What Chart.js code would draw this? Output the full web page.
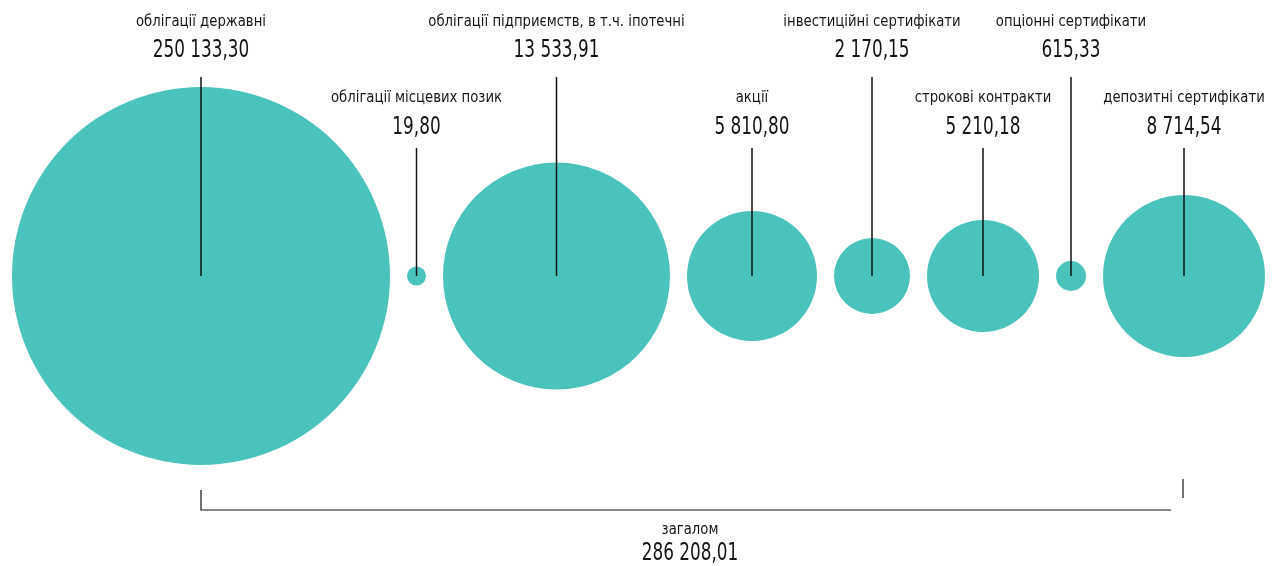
<!DOCTYPE html>
<html>
<head>
<meta charset="utf-8">
<script src="https://cdn.jsdelivr.net/npm/chart.js@4/dist/chart.umd.min.js"></script>
<style>
html,body{margin:0;padding:0;background:#fff;}
#wrap{width:1287px;height:566px;}
</style>
</head>
<body>
<div id="wrap"><canvas id="c" width="1287" height="566"></canvas></div>
<script>
const categories = [
  'облігації державні',
  'облігації місцевих позик',
  'облігації підприємств, в т.ч. іпотечні',
  'акції',
  'інвестиційні сертифікати',
  'строкові контракти',
  'опціонні сертифікати',
  'депозитні сертифікати'
];
const values = [250133.30, 19.80, 13533.91, 5810.80, 2170.15, 5210.18, 615.33, 8714.54];
const bubbleRadius = [189, 9.5, 113.5, 65, 38, 56, 15, 81];
const totalLabel = 'загалом';

const W = 1287, H = 566;
const LEFT = 12, GAP = 17, CY = 276;
const COLOR = '#4bc3bd';
const FONT = '"DejaVu Sans Condensed", "Liberation Sans Narrow", "Roboto", sans-serif';

function fmt(v){
  const s = v.toFixed(2);
  let [ip, dp] = s.split('.');
  ip = ip.replace(/\B(?=(\d{3})+(?!\d))/g, ' ');
  return ip + ',' + dp;
}

// draw horizontally condensed text centred at x (clamped to canvas)
function drawText(ctx, text, x, y, size, sx){
  ctx.font = size + 'px ' + FONT;
  const w = ctx.measureText(text).width * sx;
  let cx = x;
  if (cx + w / 2 > W - 2) cx = W - 2 - w / 2;
  ctx.save();
  ctx.translate(cx, y);
  ctx.scale(sx, 1);
  ctx.textAlign = 'center';
  ctx.textBaseline = 'middle';
  ctx.fillText(text, 0, 0);
  ctx.restore();
}

// pack bubbles left to right
const xs = [];
let cur = LEFT;
bubbleRadius.forEach((r, i) => {
  if (i > 0) cur += GAP;
  xs.push(cur + r);
  cur += 2 * r;
});
const points = values.map((v, i) => ({x: xs[i], y: CY, r: bubbleRadius[i]}));
const total = values.reduce((a, b) => a + b, 0);

const labelPlugin = {
  id: 'labels',
  afterDatasetsDraw(chart){
    const ctx = chart.ctx;
    const meta = chart.getDatasetMeta(0);
    ctx.save();
    ctx.fillStyle = '#151515';
    meta.data.forEach((el, i) => {
      const level = i % 2;
      const nameY = level === 0 ? 22 : 98;
      const valY = level === 0 ? 50 : 127;
      const lineTop = level === 0 ? 77 : 148;
      ctx.strokeStyle = '#111';
      ctx.lineWidth = 1.5;
      ctx.beginPath();
      ctx.moveTo(el.x, lineTop);
      ctx.lineTo(el.x, el.y);
      ctx.stroke();
      drawText(ctx, categories[i], el.x, nameY, 16, 0.92);
      drawText(ctx, fmt(values[i]), el.x, valY, 25, 0.75);
    });
    // total bracket
    const x0 = meta.data[0].x;
    const xn = meta.data[meta.data.length - 1].x;
    ctx.strokeStyle = '#111';
    ctx.lineWidth = 1.2;
    ctx.beginPath();
    ctx.moveTo(x0, 490); ctx.lineTo(x0, 510); ctx.lineTo(xn - 13, 510);
    ctx.moveTo(xn - 1, 479); ctx.lineTo(xn - 1, 498);
    ctx.stroke();
    const cx = (x0 + xn - 13) / 2 + 4;
    drawText(ctx, totalLabel, cx, 530, 16, 0.92);
    drawText(ctx, fmt(total), cx, 553, 25, 0.75);
    ctx.restore();
  }
};

new Chart(document.getElementById('c'), {
  type: 'bubble',
  data: {
    datasets: [{
      data: points,
      backgroundColor: COLOR,
      borderWidth: 0,
      hoverBorderWidth: 0,
      hoverRadius: 0
    }]
  },
  options: {
    responsive: false,
    animation: false,
    events: [],
    layout: {padding: 0, autoPadding: false},
    plugins: {legend: {display: false}, tooltip: {enabled: false}},
    scales: {
      x: {type: 'linear', min: 0, max: W, display: false},
      y: {type: 'linear', min: 0, max: H, reverse: true, display: false}
    }
  },
  plugins: [labelPlugin]
});
</script>
</body>
</html>
